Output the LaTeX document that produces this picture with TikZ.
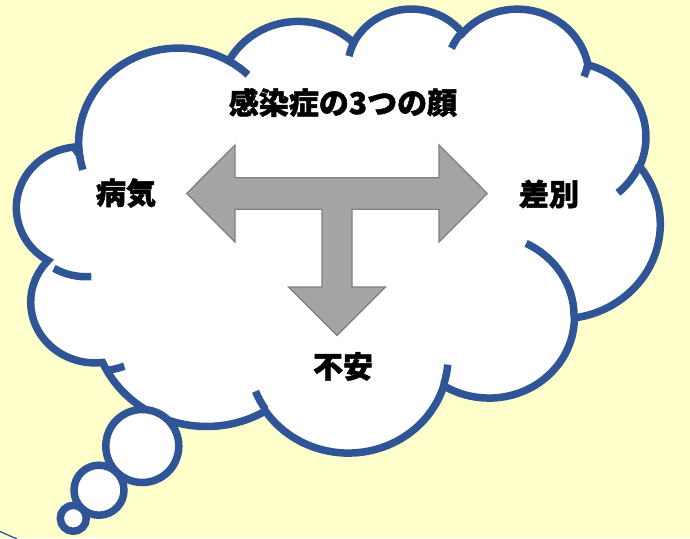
\documentclass[tikz,border=0pt]{standalone}
\usepackage{fontspec}
\newfontfamily\jp{Noto Sans CJK JP}[BoldFeatures={FakeBold=1.6}]
\definecolor{bgy}{HTML}{FFFFCC}
\definecolor{cloudblue}{HTML}{2F5597}
\definecolor{arrfill}{HTML}{A5A5A5}
\definecolor{arrline}{HTML}{7F7F7F}
\makeatletter
% DrawingML visual angle -> TikZ (y up) parametric angle
\pgfmathdeclarefunction{vp}{3}{%
  \begingroup
    \pgfmathparse{atan2((#1)*sin(#3),(#2)*cos(#3))-(#3)}%
    \let\vp@d\pgfmathresult
    \pgfmathparse{-((#3)+\vp@d-360*round(\vp@d/360))}%
    \pgfmath@smuggleone\pgfmathresult
  \endgroup}
\makeatother
\newcommand\carc[4]{arc[start angle={vp(#1,#2,#3)},end angle={vp(#1,#2,#3+#4)},x radius={#1*14.769pt},y radius={#2*10.274pt}]}
\tikzset{
  cloudline/.style={draw=cloudblue, line width=7.5pt},
  lbl/.style={font=\jp\bfseries\fontsize{30}{36}\selectfont, inner sep=0pt, text=black},
  arrowshape/.style={fill=arrfill, draw=arrline, line width=1.3pt, line join=miter}
}
\begin{document}
\begin{tikzpicture}[x=1pt,y=-1pt]
\useasboundingbox (0,0) rectangle (690,538);
\fill[bgy] (0,0) rectangle (690,538);
% thin line at bottom-left corner
\draw[cloudblue, line width=1.3pt] (0,531.5) -- (17,539);
% cloud body
\begin{scope}[shift={(22,7.6)}, x=14.769pt, y=-10.274pt]
\draw[cloudline, fill=white] (3.9,14.37)
 \carc{6.753}{9.190}{-190.487483}{123.780533}
 \carc{5.333}{7.267}{-144.102383}{89.945233}
 \carc{4.365}{5.945}{-145.807917}{99.723017}
 \carc{4.857}{6.595}{-130.986067}{117.241733}
 \carc{5.333}{7.273}{-78.708883}{109.026917}
 \carc{6.775}{9.220}{-46.26725}{130.269}
 \carc{5.785}{7.867}{0.625017}{114.033333}
 \carc{6.752}{9.215}{22.4516}{115.17255}
 \carc{7.720}{10.543}{66.242633}{82.282433}
 \carc{4.360}{5.918}{-274.942083}{146.735567}
 \carc{4.345}{5.945}{-246.8285}{152.51885}
 -- cycle;
\end{scope}
% thought bubbles
\draw[cloudline, fill=white] (142.3,446) circle[radius=36.5pt];
\draw[cloudline, fill=white] (99,490.2) circle[radius=25pt];
\draw[cloudline, fill=white] (73.3,518.3) circle[radius=13pt];
% inner arcs of the cloud
\begin{scope}[shift={(22,7.6)}, x=14.769pt, y=-10.274pt]
\draw[cloudline]
 (4.693,26.177) \carc{4.345}{5.945}{86.742}{26.4295}
 (6.928,34.899) \carc{4.360}{5.918}{73.610467}{11.447467}
 (16.478,39.090) \carc{6.752}{9.215}{137.62415}{14.0811}
 (28.827,34.751) \carc{6.752}{9.215}{6.453267}{15.99835}
 (34.129,22.954) \carc{5.785}{7.867}{-70.29235}{70.917367}
 (41.798,15.354) \carc{5.333}{7.273}{30.318033}{27.7515}
 (38.324,5.426) \carc{4.857}{6.595}{13.744333}{14.8589}
 (29.078,3.952) \carc{4.857}{6.595}{-149.18145}{18.195367}
 (22.141,4.720) \carc{4.365}{5.945}{-163.494267}{17.68635}
 (14.000,5.192) \carc{6.753}{9.190}{-66.70695}{12.31935}
 (4.127,15.789) \carc{6.753}{9.190}{157.65435}{11.858167};
\end{scope}
% three-way arrow
\draw[arrowshape] (186.7,193.5) -- (235,145) -- (235,177.7) -- (439,177.7) -- (439,145)
  -- (487.3,193.5) -- (439,242) -- (439,209.3) -- (352,209.3) -- (352,287)
  -- (385.5,287) -- (337,335.5) -- (288.5,287) -- (322,287) -- (322,209.3)
  -- (235,209.3) -- (235,242) -- cycle;
% labels
\node[lbl] (title) at (343,102.5) {感染症の3つの顔};
\node[lbl] (byoki) at (126,193) {病気};
\node[lbl] (sabetsu) at (549,194) {差別};
\node[lbl] (fuan) at (343,366.5) {不安};
\end{tikzpicture}
\end{document}
